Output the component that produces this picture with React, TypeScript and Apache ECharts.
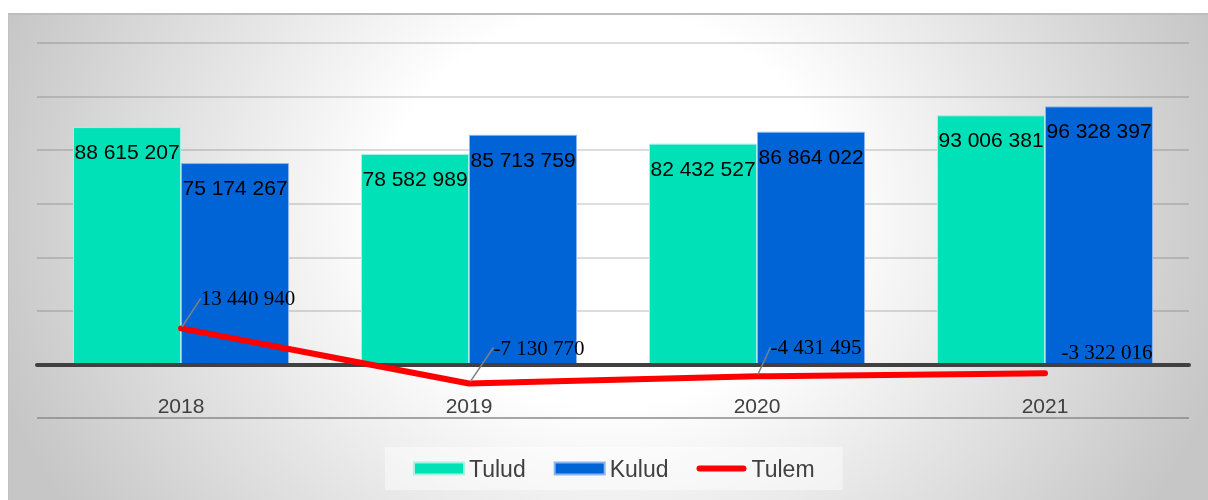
import { useEffect, useRef } from "react";
import * as echarts from "echarts";

const categories = ["2018", "2019", "2020", "2021"];
const tulud = [88615207, 78582989, 82432527, 93006381];
const kulud = [75174267, 85713759, 86864022, 96328397];
const tulem = [13440940, -7130770, -4431495, -3322016];

const yMin = -20000000;
const yMax = 120000000;
const yStep = 20000000;

// label displacement (px) for the Tulem labels, relative to their point
const tulemLabelShift = [
  [67, -30],
  [70, -36],
  [59, -29],
  [62, -21],
];
const tulemGuideShown = [true, true, true, false];

const fmt = (v: number) =>
  String(Math.round(v)).replace(/\B(?=(\d{3})+(?!\d))/g, " ");

const SANS = "'Liberation Sans', Arial, sans-serif";
const SERIF = "'Liberation Serif', 'Times New Roman', serif";

export default function App() {
  const ref = useRef<HTMLDivElement>(null);

  useEffect(() => {
    const chart = echarts.init(ref.current!, null, { renderer: "svg" });
    const splitColors = ["#8a8a8a"];
    for (let i = 0; i < 7; i++) splitColors.push("rgba(0,0,0,0.18)");

    chart.setOption({
      animation: false,
      textStyle: { fontFamily: SANS },
      grid: { left: 28, right: 19, top: 28, bottom: 82 },
      legend: {
        left: 376,
        top: 432,
        padding: [10, 28, 10, 28],
        itemGap: 28,
        itemWidth: 50,
        itemHeight: 12,
        backgroundColor: "rgba(255,255,255,0.45)",
        textStyle: { color: "#404040", fontSize: 23, fontFamily: SANS },
        data: [
          { name: "Tulud", icon: "rect" },
          { name: "Kulud", icon: "rect" },
          {
            name: "Tulem",
            icon: "path://M3,0H47A3,3,0,0,1,47,6H3A3,3,0,0,1,3,0Z",
          },
        ],
      },
      xAxis: {
        type: "category",
        data: categories,
        z: 5,
        axisLine: {
          onZero: true,
          lineStyle: { color: "#404040", width: 4 },
        },
        axisTick: { show: false },
        axisLabel: { color: "#404040", fontSize: 21, margin: -23, fontFamily: SANS },
      },
      yAxis: {
        type: "value",
        min: yMin,
        max: yMax,
        interval: yStep,
        axisLabel: { show: false },
        axisLine: { show: false },
        axisTick: { show: false },
        splitLine: { lineStyle: { color: splitColors, width: 1.5 } },
      },
      series: [
        {
          name: "Tulud",
          type: "bar",
          data: tulud,
          barGap: "0%",
          barCategoryGap: "25%",
          itemStyle: { color: "#00E1B7", borderColor: "#a8f2df", borderWidth: 1 },
          label: {
            show: true,
            position: "insideTop",
            distance: 14,
            color: "#000",
            fontSize: 21,
            fontFamily: SANS,
            formatter: (p: any) => fmt(p.value),
          },
        },
        {
          name: "Kulud",
          type: "bar",
          data: kulud,
          itemStyle: { color: "#0063D6", borderColor: "#8cb5ef", borderWidth: 1 },
          label: {
            show: true,
            position: "insideTop",
            distance: 14,
            color: "#000",
            fontSize: 21,
            fontFamily: SANS,
            formatter: (p: any) => fmt(p.value),
          },
        },
        {
          name: "Tulem",
          type: "line",
          data: tulem.map((v, i) => ({
            value: v,
            labelLine: { show: tulemGuideShown[i] },
          })),
          z: 10,
          symbol: "circle",
          symbolSize: 4,
          itemStyle: { color: "#FF0000" },
          lineStyle: { color: "#FF0000", width: 6, cap: "round" },
          label: {
            show: true,
            position: "inside",
            color: "#000",
            fontSize: 21,
            fontFamily: SERIF,
            formatter: (p: any) => fmt(p.value),
          },
          labelLayout: (p: any) => ({
            dx: tulemLabelShift[p.dataIndex][0],
            dy: tulemLabelShift[p.dataIndex][1],
          }),
          labelLine: {
            show: true,
            lineStyle: { color: "#808080", width: 1.5 },
          },
        },
      ],
    });
    return () => chart.dispose();
  }, []);

  return (
    <div
      style={{
        position: "fixed",
        left: 8,
        top: 13,
        width: 1200,
        height: 487,
        boxSizing: "border-box",
        borderTop: "2px solid #bdbdbd",
        borderLeft: "1px solid #c2c2c2",
        background:
          "radial-gradient(ellipse 640px 560px at 50% 40%, #ffffff 0%, #ffffff 35%, #c6c6c6 100%)",
      }}
    >
      <div ref={ref} style={{ width: 1199, height: 485 }} />
    </div>
  );
}
